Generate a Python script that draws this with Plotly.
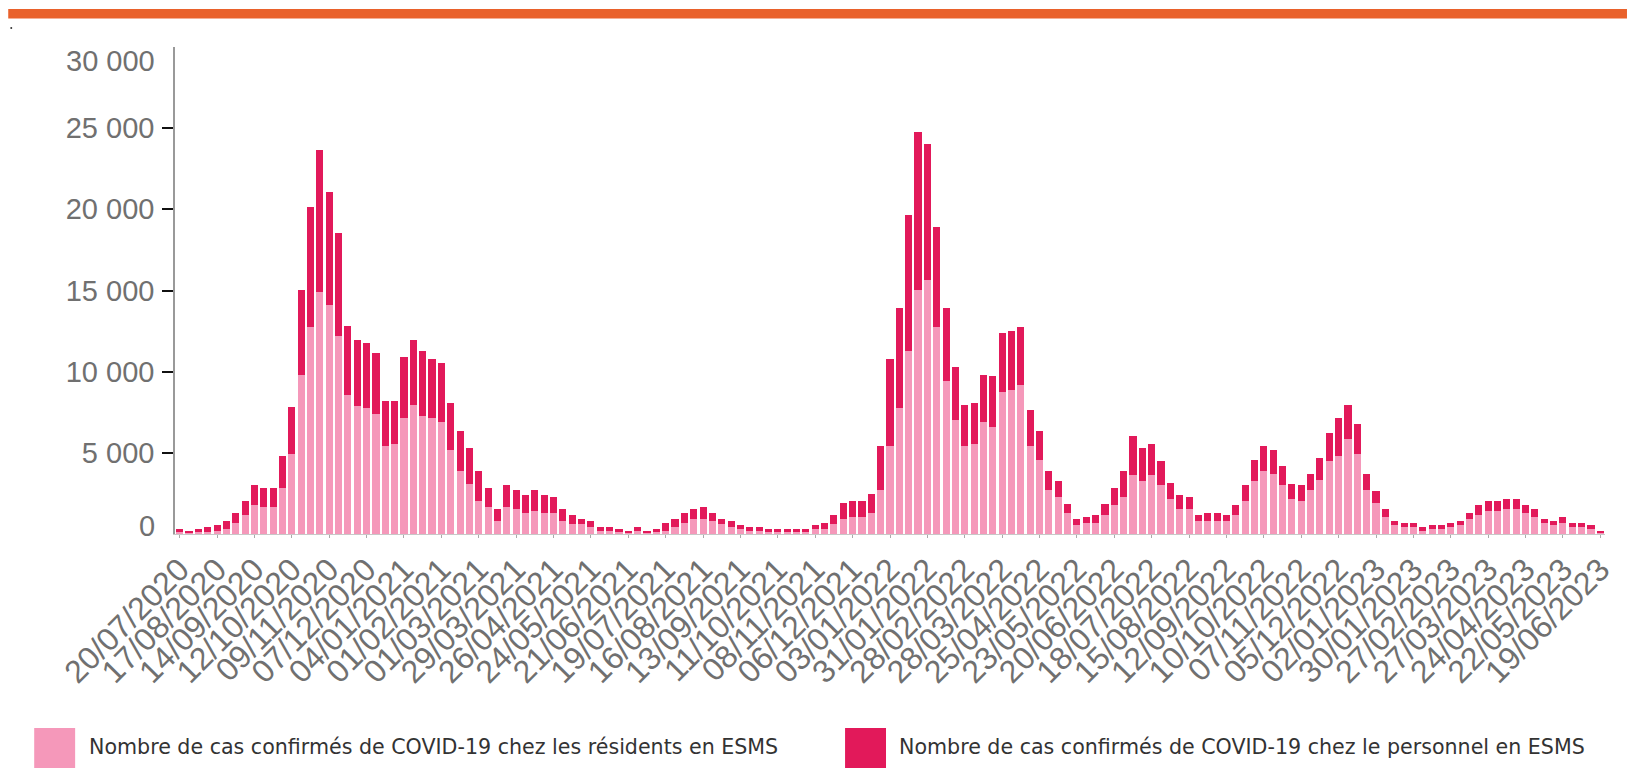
import datetime as dt
import plotly.graph_objects as go

# ---------------- data ----------------
start = dt.date(2020, 7, 20)
weeks = [(start + dt.timedelta(weeks=i)).strftime("%d/%m/%Y") for i in range(153)]

residents = [
    100, 60, 120, 150, 200, 326, 694, 1142, 1775, 1652,
    1652, 2856, 4937, 9812, 12730, 14912, 14096, 12220, 8548, 7874,
    7732, 7364, 5426, 5549, 7120, 7976, 7262, 7120, 6875, 5182,
    3856, 3101, 2020, 1652, 796, 1652, 1550, 1306, 1408, 1306,
    1306, 796, 592, 592, 449, 184, 184, 122, 60, 184,
    60, 100, 184, 449, 694, 938, 938, 796, 592, 449,
    326, 184, 184, 120, 120, 120, 120, 120, 326, 326,
    592, 938, 1061, 1061, 1306, 2734, 5426, 7732, 11261, 15014,
    15626, 12730, 9425, 7017, 5426, 5549, 6875, 6610, 8731, 8854,
    9200, 5426, 4570, 2734, 2264, 1306, 571, 694, 694, 1183,
    1775, 2264, 3611, 3244, 3611, 3000, 2162, 1550, 1550, 796,
    796, 796, 796, 1183, 2020, 3244, 3856, 3713, 3000, 2162,
    2020, 2734, 3346, 4468, 4814, 5834, 4937, 2734, 1918, 1061,
    571, 449, 449, 184, 326, 326, 449, 571, 938, 1183,
    1428, 1428, 1550, 1550, 1306, 1061, 694, 571, 694, 449,
    449, 326, 60,
]

totals = [
    326, 184, 326, 450, 570, 800, 1265, 2020, 3000, 2856,
    2856, 4814, 7854, 15014, 20135, 23644, 21094, 18544, 12832, 11975,
    11750, 11138, 8200, 8200, 10894, 11975, 11261, 10751, 10526, 8078,
    6365, 5284, 3856, 2856, 1550, 3000, 2734, 2387, 2734, 2387,
    2264, 1550, 1142, 938, 796, 449, 449, 326, 184, 449,
    184, 326, 694, 938, 1265, 1550, 1652, 1265, 938, 796,
    571, 449, 449, 326, 326, 326, 326, 326, 571, 694,
    1183, 1918, 2020, 2020, 2489, 5426, 10751, 13913, 19625, 24766,
    24031, 18890, 13953, 10282, 7976, 8078, 9812, 9710, 12403, 12526,
    12730, 7630, 6365, 3856, 3244, 1877, 938, 1061, 1183, 1877,
    2856, 3856, 6038, 5284, 5549, 4468, 3142, 2387, 2264, 1183,
    1306, 1306, 1183, 1775, 3000, 4570, 5426, 5182, 4202, 3101,
    3000, 3713, 4672, 6202, 7120, 7976, 6752, 3713, 2632, 1550,
    796, 694, 694, 449, 571, 571, 694, 796, 1306, 1775,
    2020, 2020, 2162, 2162, 1775, 1550, 938, 796, 1061, 694,
    694, 571, 184,
]
staff = [t - r for t, r in zip(totals, residents)]

tick_labels = weeks[::4]
y_ticks = [0, 5000, 10000, 15000, 20000, 25000, 30000]
y_tick_text = ["0", "5 000", "10 000", "15 000", "20 000", "25 000", "30 000"]

legend_labels = [
    "Nombre de cas confirmés de COVID-19 chez les résidents en ESMS",
    "Nombre de cas confirmés de COVID-19 chez le personnel en ESMS",
]
col_res = "#F598BA"
col_staff = "#E2195A"

# ---------------- layout geometry ----------------
W, H = 1629, 768
ML, MR, MT, MB = 175, 22, 47, 234
PW, PH = W - ML - MR, H - MT - MB
TICKLEN, STANDOFF = 11, 2


def px(x):
    return (x - ML) / PW


def py(y):
    return (H - MB - y) / PH


fig = go.Figure()
fig.add_trace(go.Bar(x=weeks, y=residents, name=legend_labels[0],
                     marker=dict(color=col_res, line=dict(width=0)),
                     showlegend=False))
fig.add_trace(go.Bar(x=weeks, y=staff, name=legend_labels[1],
                     marker=dict(color=col_staff, line=dict(width=0)),
                     showlegend=False))

shapes = [
    # orange band at the top
    dict(type="rect", xref="paper", yref="paper", x0=px(8), x1=px(1629),
         y0=py(18.5), y1=py(9), fillcolor="#E9612B", line=dict(width=0), layer="above"),
    dict(type="circle", xref="paper", yref="paper", x0=px(10), x1=px(12),
         y0=py(29), y1=py(27), fillcolor="#333", line=dict(width=0)),
    # legend swatches
    dict(type="rect", xref="paper", yref="paper", x0=px(34), x1=px(75),
         y0=py(768), y1=py(728), fillcolor=col_res, line=dict(width=0)),
    dict(type="rect", xref="paper", yref="paper", x0=px(846), x1=px(887),
         y0=py(768), y1=py(728), fillcolor=col_staff, line=dict(width=0)),
]
legend_font = dict(family="DejaVu Sans, Liberation Sans, Arial", size=20.6, color="#333333")
ytick_font = dict(family="Liberation Sans, Arial", size=29, color="#707070")
annotations = [
    dict(xref="paper", yref="paper", x=px(87), y=py(747), xanchor="left", yanchor="middle",
         text=legend_labels[0], showarrow=False, font=legend_font),
    dict(xref="paper", yref="paper", x=px(898), y=py(747), xanchor="left", yanchor="middle",
         text=legend_labels[1], showarrow=False, font=legend_font),
    # end labels of the value axis, kept inside the axis span as in the original
    dict(xref="paper", yref="y", x=0, y=y_ticks[-1], xanchor="right", yanchor="middle",
         xshift=-(TICKLEN + STANDOFF + 5), yshift=-14, text=y_tick_text[-1],
         showarrow=False, font=ytick_font),
    dict(xref="paper", yref="y", x=0, y=y_ticks[0], xanchor="right", yanchor="middle",
         xshift=-(TICKLEN + STANDOFF + 5), yshift=8, text=y_tick_text[0],
         showarrow=False, font=ytick_font),
]

fig.update_layout(
    width=W, height=H,
    margin=dict(l=ML, r=MR, t=MT, b=MB, pad=0),
    barmode="stack", bargap=0.24,
    plot_bgcolor="white", paper_bgcolor="white",
    shapes=shapes, annotations=annotations,
    showlegend=False,
)
fig.update_xaxes(
    type="category", range=[-0.5, len(weeks) - 0.5],
    tickmode="array", tickvals=tick_labels, ticktext=tick_labels,
    tickangle=-45, ticks="outside", ticklen=3, tickcolor="#aaaaaa",
    showline=True, linecolor="#c8c8c8", linewidth=1,
    tickfont=dict(family="Liberation Sans, Arial", size=32, color="#707070"),
    showgrid=False, zeroline=False,
)
fig.update_yaxes(
    range=[0, 30000], tickmode="array", tickvals=y_ticks[1:-1],
    ticktext=y_tick_text[1:-1],
    ticks="outside", ticklen=TICKLEN, tickwidth=2, tickcolor="#111111",
    showline=True, linecolor="#999999", linewidth=1.5,
    tickfont=ytick_font,
    ticklabelstandoff=STANDOFF,
    showgrid=False, zeroline=False,
)

fig.write_html("out.html", config={"displayModeBar": False},
               post_script="document.body.style.margin='0';document.body.style.overflow='hidden';")
